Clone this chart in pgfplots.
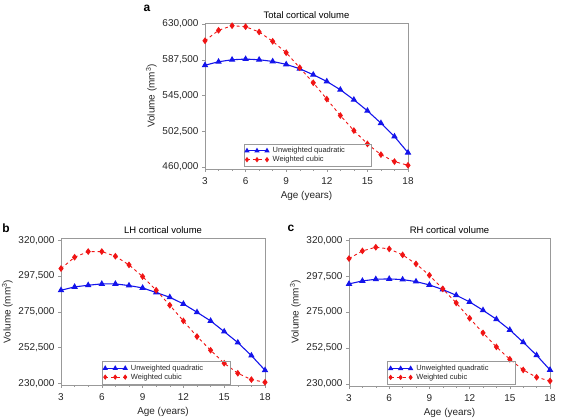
\documentclass[border=0pt]{standalone}
\usepackage{fontspec}
\setmainfont{Liberation Sans}
\usepackage{pgfplots}
\pgfplotsset{compat=1.18}
\definecolor{myblue}{RGB}{20,20,235}
\definecolor{myred}{RGB}{240,20,20}
\pgfplotsset{
  panel/.style={
    scale only axis,
    xmin=3, xmax=18,
    xtick={3,6,9,12,15,18},
    minor x tick num=2,
    tick align=outside,
    tick pos=left,
    axis line style={gray!80},
    every tick/.style={gray!80},
    major tick length=3pt,
    minor tick length=2pt,
    ticklabel style={font=\fontsize{10}{11}\selectfont, text=black!85},
    xticklabel style={yshift=-2pt},
    /pgf/number format/assume math mode=true,
    /pgf/number format/fixed,
    /pgf/number format/1000 sep={,},
    scaled y ticks=false,
    xlabel={Age (years)},
    ylabel={Volume (mm\textsuperscript{3})},
    label style={font=\fontsize{10}{11}\selectfont, text=black!85},
    xlabel style={yshift=0pt},
    ylabel style={yshift=-1pt},
    title style={font=\fontsize{9.5}{11}\selectfont, yshift=-5pt},
    legend cell align=left,
    legend style={draw=gray!80, fill=none, font=\fontsize{7.5}{8.5}\selectfont, inner sep=1.5pt, row sep=-2pt,
      anchor=south west, text=black!85, /tikz/every odd column/.append style={column sep=2bp}},
    legend image code/.code={\draw[#1, mark size=2pt] plot coordinates {(0bp,0bp) (10bp,0bp) (20bp,0bp)};},
  },
  blueline/.style={color=myblue, line width=1.1pt, mark=triangle*, mark size=2.7pt, mark options={solid, fill=myblue}},
  redline/.style={color=myred, line width=0.9pt, dashed, mark=diamond*, mark size=2.7pt, mark options={solid, fill=myred}},
}
\newcommand{\pad}{\rule{0pt}{0pt}\kern 23bp\rule{0pt}{0pt}}
\begin{document}
\begin{tikzpicture}[x=1bp,y=1bp]
\path[use as bounding box] (0,0) rectangle (562,417);
% Panel a
\begin{axis}[panel, at={(205bp,248bp)}, anchor=south west, width=203bp, height=146bp,
  ymin=457600, ymax=631200,
  ytick={460000,502500,545000,587500,630000},
  title={Total cortical volume},
  legend style={at={(0.19,0.015)}}]
\addplot[blueline] coordinates {
(3,581000) (4,585100) (5,587500) (6,588300) (7,587500) (8,585500) (9,582000) (10,576800)
(11,569700) (12,561700) (13,551800) (14,539900) (15,526800) (16,512100) (17,496200) (18,477000)};
\addplot[redline] coordinates {
(3,610100) (4,622500) (5,628000) (6,626800) (7,620500) (8,609400) (9,595900) (10,578000)
(11,560100) (12,540700) (13,521200) (14,503300) (15,487400) (16,474700) (17,466400) (18,462000)};
\legend{Unweighted quadratic\pad, Weighted cubic}
\end{axis}
% Panel b
\begin{axis}[panel, at={(61bp,32bp)}, anchor=south west, width=204bp, height=147bp,
  ymin=228900, ymax=321400,
  ytick={230000,252500,275000,297500,320000},
  title={LH cortical volume},
  legend style={at={(0.2,0.005)}}]
\addplot[blueline] coordinates {
(3,288530) (4,290630) (5,291680) (6,292520) (7,292520) (8,291470) (9,290000) (10,287060)
(11,284120) (12,279930) (13,274680) (14,269230) (15,262510) (16,255590) (17,247410) (18,238180)};
\addplot[redline] coordinates {
(3,302170) (4,309300) (5,312870) (6,312870) (7,309930) (8,304480) (9,297130) (10,288530)
(11,279090) (12,269230) (13,259370) (14,250770) (15,242580) (16,236290) (17,232300) (18,230620)};
\legend{Unweighted quadratic\pad, Weighted cubic}
\end{axis}
% Panel c
\begin{axis}[panel, at={(349bp,31bp)}, anchor=south west, width=201bp, height=148bp,
  ymin=228700, ymax=321400,
  ytick={230000,252500,275000,297500,320000},
  title={RH cortical volume},
  legend style={at={(0.19,0.01)}}]
\addplot[blueline] coordinates {
(3,292650) (4,294530) (5,295570) (6,295780) (7,295360) (8,294110) (9,292020) (10,289100)
(11,285550) (12,281370) (13,276150) (14,270510) (15,263830) (16,256100) (17,247960) (18,238770)};
\addplot[redline] coordinates {
(3,308520) (4,313320) (5,315620) (6,314570) (7,310810) (8,305180) (9,298080) (10,289520)
(11,280750) (12,271140) (13,261950) (14,253180) (15,245460) (16,238770) (17,234170) (18,231880)};
\legend{Unweighted quadratic\pad, Weighted cubic}
\end{axis}
\node[font=\bfseries\fontsize{12}{13}\selectfont] at (147,409) {a};
\node[font=\bfseries\fontsize{12}{13}\selectfont] at (6,189) {b};
\node[font=\bfseries\fontsize{12}{13}\selectfont] at (291,189) {c};
\end{tikzpicture}
\end{document}
